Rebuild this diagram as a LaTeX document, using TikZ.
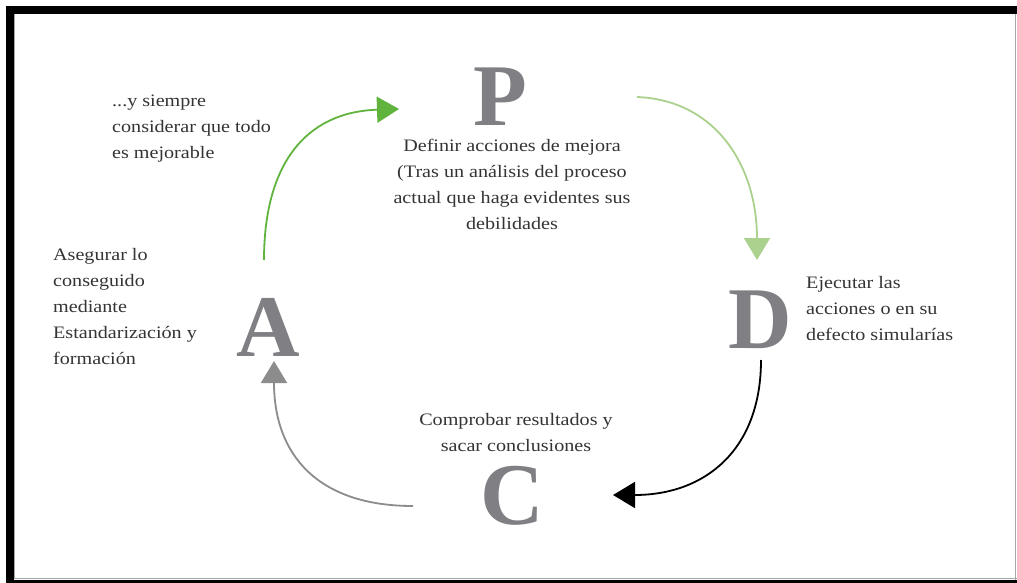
\documentclass[tikz,border=0pt]{standalone}
\usepackage{fontspec}
\setmainfont[FakeStretch=1.15]{Liberation Serif}
\usetikzlibrary{arrows.meta}
\definecolor{lettergray}{RGB}{128,128,132}
\definecolor{textgray}{RGB}{52,52,52}
\definecolor{pdcagreen}{RGB}{96,180,62}
\definecolor{pdcalight}{RGB}{170,210,142}
\definecolor{pdcagray}{RGB}{140,140,140}
\newfontfamily\letterfont{Liberation Serif}
\tikzset{
  bigletter/.style={inner sep=0pt, text=lettergray,
    font=\letterfont\fontsize{88}{88}\selectfont\bfseries},
  note/.style={inner sep=0pt, text=textgray,
    font=\fontsize{17.5}{26}\selectfont},
  cyc/.style={line width=1.8pt, -{Triangle[length=22pt,width=26pt]}},
}
\begin{document}
\begin{tikzpicture}[x=1pt,y=-1pt]
\useasboundingbox (0,0) rectangle (1017,583);
\fill[white] (0,0) rectangle (1017,583);
% frame
\fill[black] (6,6) rectangle (1017,14);
\fill[black] (6,6) rectangle (14,583);
\fill[black] (6,580) rectangle (1017,583);
\draw[gray!70, line width=1pt] (14,578.5) -- (1017,578.5);
\draw[gray!70, line width=1.5pt] (1015.5,14) -- (1015.5,580);
\draw[gray!70, line width=1pt] (14.5,14) -- (14.5,578);

% the four stages
\node[bigletter] (P) at (500,97) {P};
\node[bigletter] (D) at (760,320) {D};
\node[bigletter] (C) at (512,496) {C};
\node[bigletter] (A) at (268,327) {A};

% descriptions
\node[note, align=center, anchor=north] (tP) at (512,139)
  {Definir acciones de mejora\\(Tras un análisis del proceso\\actual que haga evidentes sus\\debilidades};
\node[note, align=left, anchor=north west] (tD) at (806,276)
  {Ejecutar las\\acciones o en su\\defecto simularías};
\node[note, align=center, anchor=north] (tC) at (516,413)
  {Comprobar resultados y\\sacar conclusiones};
\node[note, align=left, anchor=north west] (tA) at (53,248)
  {Asegurar lo\\conseguido\\mediante\\Estandarización y\\formación};
\node[note, align=left, anchor=north west] (tI) at (112,95)
  {...y siempre\\considerar que todo\\es mejorable};

% arrow end points
\coordinate (a1) at (264,260);
\coordinate (p0) at (399,109);
\coordinate (p1) at (637,97);
\coordinate (d0) at (757,260);
\coordinate (d1) at (761,360);
\coordinate (c0) at (613,495);
\coordinate (c1) at (413,506);
\coordinate (a0) at (274,361);

% cycle arrows
\draw[cyc, pdcagreen] (a1) .. controls (264,165) and (305,112) .. (p0);
\draw[cyc, pdcalight] (p1) .. controls (715,100) and (757,165) .. (d0);
\draw[cyc, black] (d1) .. controls (761,450) and (705,495) .. (c0);
\draw[cyc, pdcagray] (c1) .. controls (318,506) and (274,455) .. (a0);
\end{tikzpicture}
\end{document}
